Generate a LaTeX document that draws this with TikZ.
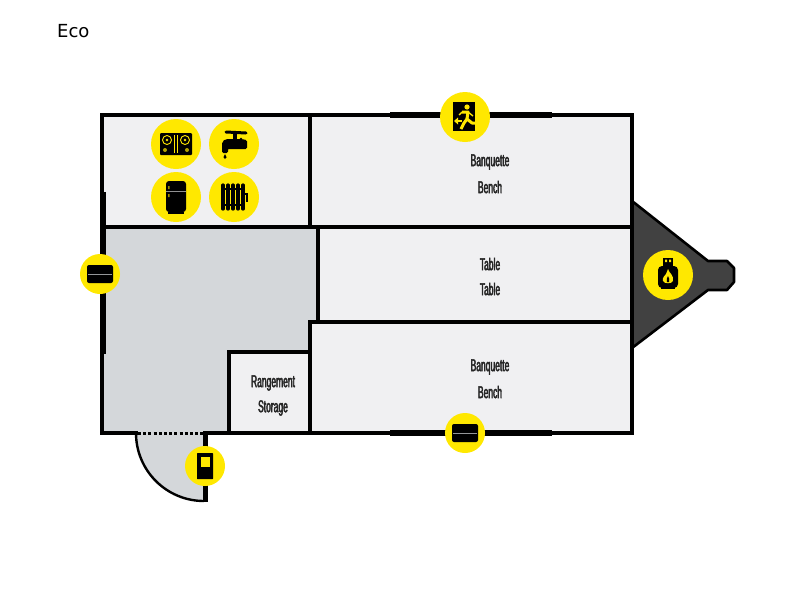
\documentclass[tikz,border=0pt]{standalone}
\usepackage{fontspec}
\setmainfont{DejaVu Sans}
\newfontfamily\condfont[FakeStretch=0.5,FakeBold=2.6]{Liberation Sans}
\usetikzlibrary{positioning, calc}

\definecolor{signyellow}{HTML}{FFE800}
\definecolor{roomfill}{HTML}{F0F0F2}
\definecolor{floorfill}{HTML}{D4D7DA}
\definecolor{tankfill}{HTML}{414141}

\tikzset{
    wall/.style={line width=3.4pt, line cap=rect, draw=black},
    opening/.style={line width=6pt, draw=black},
    sign/.style={circle, fill=signyellow, minimum size=#1, inner sep=0pt},
    sign/.default=50pt,
    roomlabel/.style={font=\condfont\fontsize{17}{17}\selectfont, text=black!85, inner sep=0pt},
    pics/hob/.style={code={
        \fill[black, rounded corners=1pt] (-16,-11) rectangle (16,11);
        \foreach \sx in {-1,1} {
            \draw[signyellow, line width=.9pt] (\sx*9,-4) circle (4.5);
            \fill[signyellow] (\sx*9,-4) circle (1.3);
            \fill[signyellow!70!black] (\sx*11,6) circle (2);
        }
        \draw[signyellow, line width=.8pt] (-1.5,-9) -- (-1.5,9) (1.5,-9) -- (1.5,9);
    }},
    pics/tap/.style={code={
        \draw[black, line width=3pt, line cap=round] (-8,-12) -- (12,-11);
        \draw[black, line width=4.5pt] (1,-12) -- (1,-4);
        \fill[black, rounded corners=1.5pt] (-12,9) -- (-12,1) .. controls (-12,-3) and (-9,-5) .. (-5,-5)
            -- (7,-5) -- (7,-5) -- (13,-4) -- (13,5) -- (7,5) -- (-4,5) .. controls (-6,5) and (-6,6) .. (-6,9) -- cycle;
        \fill[black] (-9,10) .. controls (-11,12) and (-11,15) .. (-9,15) .. controls (-7,15) and (-7,12) .. (-9,10) -- cycle;
    }},
    pics/fridge/.style={code={
        \fill[black, rounded corners=3pt] (-10,-16) rectangle (10,15);
        \fill[black] (-8,15) rectangle (8,17);
        \draw[roomfill!60!black, line width=.6pt] (-10,-6) -- (10,-6);
        \fill[signyellow!60!black] (-8,-11) rectangle (-6.5,-8) (-8,-3) rectangle (-6.5,0);
    }},
    pics/radiator/.style={code={
        \foreach \bx in {-11,-6,-1,4,9} {
            \draw[black, line width=3.2pt, line cap=round] (\bx,-12) -- (\bx,12);
        }
        \draw[black, line width=1.6pt] (-12,-8) -- (10,-8) (-12,8) -- (10,8);
        \draw[black, line width=1.6pt] (10,-3) -- (13,-3) -- (13,5);
    }},
    pics/gasbottle/.style={code={
        \fill[black] (-5,-17) rectangle (5,-9);
        \fill[signyellow] (-3,-15.5) rectangle (-1,-13) (1,-15.5) rectangle (3,-13);
        \fill[black, rounded corners=4pt] (-10,-9) rectangle (10,13);
        \fill[black] (-7,11) rectangle (7,14);
        \fill[signyellow] (0,-6) .. controls (1,-2) and (6,0) .. (5,6) .. controls (4,9) and (-4,9) .. (-5,6)
            .. controls (-6,2) and (-3,1) .. (-2,-1) .. controls (-1,-3) and (-1,-4) .. (0,-6) -- cycle;
        \fill[black] (0,1) .. controls (1,3) and (2,5) .. (1,7) -- (-1,7) .. controls (-2,5) and (-1,3) .. (0,1) -- cycle;
    }},
    pics/exitman/.style={code={
        \fill[black] (-12,-15) rectangle (10,14);
        \fill[signyellow] (2,-10) circle (2.6);
        \draw[signyellow, line width=3pt, line join=round] (-3,-5) -- (3,-5) -- (2,2) -- (7,6) -- (10,6);
        \draw[signyellow, line width=3pt, line join=round] (2,2) -- (-1,6) -- (-4,12);
        \draw[signyellow, line width=1.4pt] (3,-5) -- (8,-1);
        \draw[signyellow, line width=1.4pt] (-3,-5) -- (-6,-2);
        \draw[signyellow, line width=1.4pt] (-8,4) -- (-3,4);
        \fill[signyellow] (-11,4) -- (-7,0.5) -- (-7,7.5) -- cycle;
    }},
    pics/panel/.style={code={
        \fill[black, rounded corners=2pt] (-13,-9) rectangle (13,9);
        \draw[floorfill!70!black, line width=.6pt] (-12,0) -- (12,0);
    }},
    pics/doorsign/.style={code={
        \fill[black, rounded corners=.5pt] (-8,-13) rectangle (8,13);
        \fill[signyellow] (-4.5,-9) rectangle (4.5,.5);
    }},
}

\begin{document}
\begin{tikzpicture}[x=1pt, y=-1pt]
    \useasboundingbox (0,0) rectangle (800,600);

    % title
    \node[font=\fontsize{18}{18}\selectfont, anchor=west, inner sep=0pt] (Title) at (57,31) {Eco};

    % floor
    \fill[roomfill] (102,115) rectangle (632,433);
    \fill[floorfill] (103,227) -- (318,227) -- (318,322) -- (310,322) -- (310,352) -- (229,352) -- (229,433) -- (103,433) -- cycle;

    % gas locker
    \filldraw[fill=tankfill, draw=black, line width=2.6pt, line join=round]
        (632,201) -- (708,261) -- (727,261) -- (734,268) -- (734,282) -- (727,290) -- (708,290) -- (632,348) -- cycle;

    % door
    \fill[floorfill] (136,433) arc[start angle=180, end angle=90, radius=68] -- (205,433) -- cycle;
    \draw[black, line width=2.4pt] (136,433) arc[start angle=180, end angle=90, radius=68];
    \draw[black, line width=2.4pt, dash pattern=on 3pt off 2.2pt] (138,433.5) -- (204,433.5);
    \draw[black, line width=5pt] (205,433) -- (205,501.5);

    % walls
    \draw[wall, line join=miter] (136,433) -- (102,433) -- (102,115) -- (632,115) -- (632,433) -- (205,433);
    \draw[wall] (310,115) -- (310,227);
    \draw[wall] (103,227) -- (632,227);
    \draw[wall] (318,227) -- (318,322);
    \draw[wall] (310,322) -- (632,322);
    \draw[wall] (310,322) -- (310,433);
    \draw[wall] (229,433) -- (229,352) -- (310,352);

    % windows
    \draw[opening] (390,115) -- (552,115);
    \draw[opening] (390,433) -- (552,433);
    \draw[opening] (103,192) -- (103,354);

    % signs
    \node[sign] (Hob) at (176,144) {};
    \node[sign] (Tap) at (234,144) {};
    \node[sign] (Fridge) at (176,197) {};
    \node[sign] (Radiator) at (234,197) {};
    \node[sign] (Exit) at (465,117) {};
    \node[sign] (Gas) at (668,275) {};
    \node[sign=40pt] (WindowLeft) at (100,274) {};
    \node[sign=40pt] (WindowBottom) at (465,433) {};
    \node[sign=40pt] (Door) at (205,466) {};

    \pic at (Hob) {hob};
    \pic at (Tap) {tap};
    \pic at (Fridge) {fridge};
    \pic at (Radiator) {radiator};
    \pic at (Exit) {exitman};
    \pic at (Gas) {gasbottle};
    \pic at (WindowLeft) {panel};
    \pic at (WindowBottom) {panel};
    \pic at (Door) {doorsign};

    % labels
    \node[roomlabel] (BenchTopFr) at (490,162) {Banquette};
    \node[roomlabel] (BenchTop) at (490,187) {Bench};
    \node[roomlabel] (TableFr) at (490,264) {Table};
    \node[roomlabel] (TableEn) at (490,289) {Table};
    \node[roomlabel] (BenchLowFr) at (490,367) {Banquette};
    \node[roomlabel] (BenchLow) at (490,392) {Bench};
    \node[roomlabel] (StorageFr) at (273,383) {Rangement};
    \node[roomlabel] (StorageEn) at (273,408) {Storage};
\end{tikzpicture}
\end{document}
